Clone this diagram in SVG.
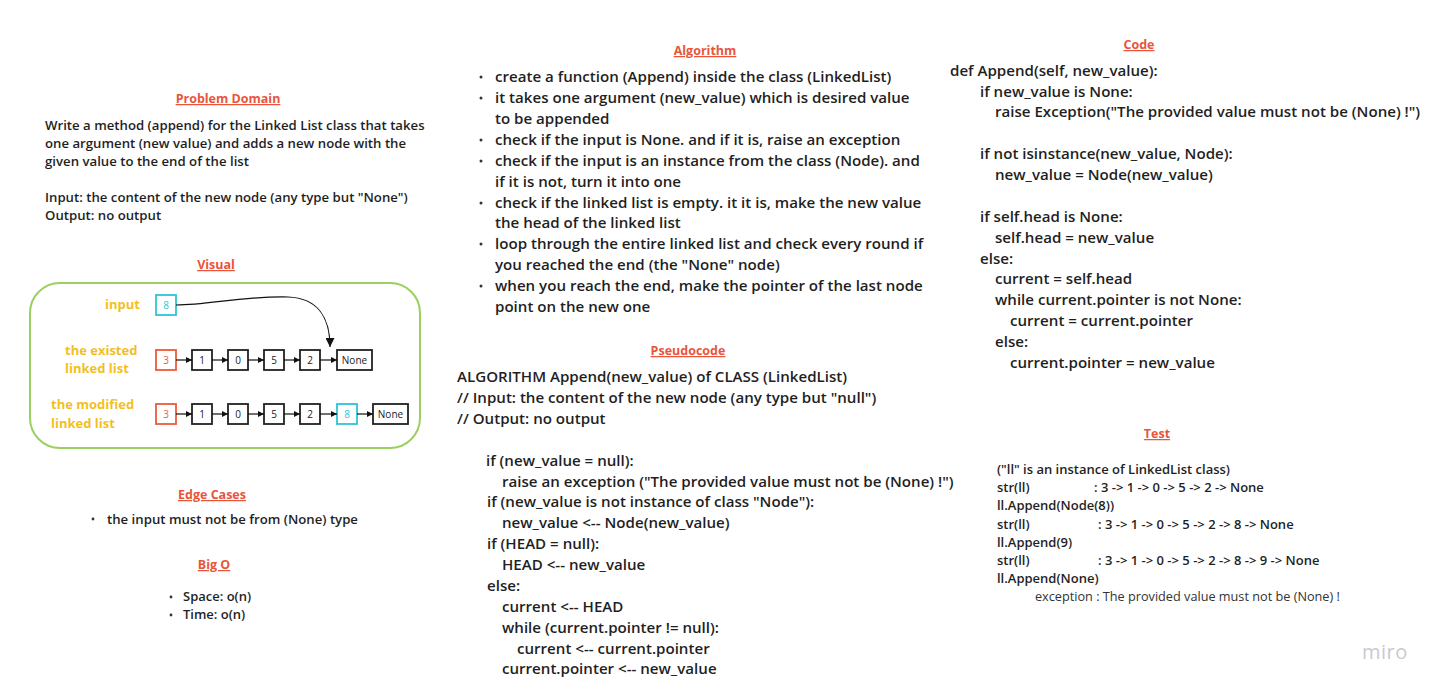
<svg xmlns="http://www.w3.org/2000/svg" width="1441" height="693" viewBox="0 0 1441 693">
<defs>
<style>
text{font-family:"Open Sans","Noto Sans","Liberation Sans",sans-serif;}
.t{fill:#e9553b;font-weight:700;font-size:12.5px;text-decoration:underline;text-anchor:middle;}
.b{fill:#1f1f1f;font-weight:600;}
.pd{font-size:13.2px;}
.al{font-size:15.1px;}
.cd{font-size:15.1px;}
.ts{font-size:13px;}
.y{fill:#f3bf1f;font-weight:700;font-size:13px;}
.bx{fill:#fff;stroke:#222;stroke-width:1.8;}
.rb{fill:#fff;stroke:#ee5a3c;stroke-width:1.8;}
.cb{fill:#fff;stroke:#2cc5d6;stroke-width:1.8;}
.bt{font-size:10px;text-anchor:middle;fill:#222;}
.ln{stroke:#111;stroke-width:1.2;fill:none;}
</style>
<marker id="ah" viewBox="0 0 10 10" refX="10" refY="5" markerWidth="8" markerHeight="6" markerUnits="userSpaceOnUse" orient="auto">
<path d="M0,0 L10,5 L0,10 z" fill="#111"/>
</marker>
<marker id="ahb" viewBox="0 0 10 10" refX="10" refY="5" markerWidth="14" markerHeight="9" markerUnits="userSpaceOnUse" orient="auto">
<path d="M0,0 L10,5 L0,10 z" fill="#111"/>
</marker>
</defs>
<rect width="1441" height="693" fill="#fff"/>

<g id="problem-domain">
<text class="t" x="228" y="103">Problem Domain</text>
<text class="b pd" x="45" y="130">Write a method (append) for the Linked List class that takes</text>
<text class="b pd" x="45" y="148">one argument (new value) and adds a new node with the</text>
<text class="b pd" x="45" y="166">given value to the end of the list</text>
<text class="b pd" x="45" y="202">Input: the content of the new node (any type but "None")</text>
<text class="b pd" x="45" y="220">Output: no output</text>
</g>

<g id="visual">
<text class="t" x="216" y="269">Visual</text>
<rect x="30" y="283" width="390" height="165" rx="30" ry="30" fill="none" stroke="#9bcf5f" stroke-width="2"/>
<text class="y" x="105" y="309">input</text>
<text class="y" x="65" y="355">the existed</text>
<text class="y" x="65" y="373">linked list</text>
<text class="y" x="51" y="409">the modified</text>
<text class="y" x="51" y="428">linked list</text>
</g>

<g id="node-input"><rect class="cb" x="156" y="295" width="20" height="20"/><text class="bt" x="166" y="308.5" style="fill:#2cc5d6">8</text></g>

<g id="row1-3"><rect class="rb" x="156" y="350" width="20" height="20"/><text class="bt" x="166" y="363.5" style="fill:#ee5a3c">3</text></g>
<g id="row1-1"><rect class="bx" x="192" y="350" width="20" height="20"/><text class="bt" x="202" y="363.5">1</text></g>
<g id="row1-0"><rect class="bx" x="228" y="350" width="20" height="20"/><text class="bt" x="238" y="363.5">0</text></g>
<g id="row1-5"><rect class="bx" x="264" y="350" width="20" height="20"/><text class="bt" x="274" y="363.5">5</text></g>
<g id="row1-2"><rect class="bx" x="300" y="350" width="20" height="20"/><text class="bt" x="310" y="363.5">2</text></g>
<g id="row1-none"><rect class="bx" x="337" y="350" width="35" height="20"/><text class="bt" x="354.5" y="363.5">None</text></g>

<g id="row2-3"><rect class="rb" x="156" y="404" width="20" height="20"/><text class="bt" x="166" y="417.5" style="fill:#ee5a3c">3</text></g>
<g id="row2-1"><rect class="bx" x="192" y="404" width="20" height="20"/><text class="bt" x="202" y="417.5">1</text></g>
<g id="row2-0"><rect class="bx" x="228" y="404" width="20" height="20"/><text class="bt" x="238" y="417.5">0</text></g>
<g id="row2-5"><rect class="bx" x="264" y="404" width="20" height="20"/><text class="bt" x="274" y="417.5">5</text></g>
<g id="row2-2"><rect class="bx" x="300" y="404" width="20" height="20"/><text class="bt" x="310" y="417.5">2</text></g>
<g id="row2-8"><rect class="cb" x="337" y="404" width="20" height="20"/><text class="bt" x="347" y="417.5" style="fill:#2cc5d6">8</text></g>
<g id="row2-none"><rect class="bx" x="373" y="404" width="35" height="20"/><text class="bt" x="390.5" y="417.5">None</text></g>

<g id="connectors">
<path class="ln" d="M176,305 C210,305 240,296 288,297 C318,298 330,318 330,347" marker-end="url(#ahb)"/>
<line class="ln" x1="176" y1="360" x2="192" y2="360" marker-end="url(#ah)"/>
<line class="ln" x1="212" y1="360" x2="228" y2="360" marker-end="url(#ah)"/>
<line class="ln" x1="248" y1="360" x2="264" y2="360" marker-end="url(#ah)"/>
<line class="ln" x1="284" y1="360" x2="300" y2="360" marker-end="url(#ah)"/>
<line class="ln" x1="320" y1="360" x2="337" y2="360" marker-end="url(#ah)"/>
<line class="ln" x1="176" y1="414" x2="192" y2="414" marker-end="url(#ah)"/>
<line class="ln" x1="212" y1="414" x2="228" y2="414" marker-end="url(#ah)"/>
<line class="ln" x1="248" y1="414" x2="264" y2="414" marker-end="url(#ah)"/>
<line class="ln" x1="284" y1="414" x2="300" y2="414" marker-end="url(#ah)"/>
<line class="ln" x1="320" y1="414" x2="337" y2="414" marker-end="url(#ah)"/>
<line class="ln" x1="357" y1="414" x2="373" y2="414" marker-end="url(#ah)"/>
</g>

<g id="edge-cases">
<text class="t" x="212" y="499">Edge Cases</text>
<circle cx="93" cy="519" r="1.4" fill="#333"/>
<text class="b pd" x="107" y="524">the input must not be from (None) type</text>
</g>

<g id="big-o">
<text class="t" x="214" y="569">Big O</text>
<circle cx="171" cy="597" r="1.4" fill="#333"/>
<text class="b ts" x="183" y="601">Space: o(n)</text>
<circle cx="171" cy="615" r="1.4" fill="#333"/>
<text class="b ts" x="183" y="619">Time: o(n)</text>
</g>

<g id="algorithm">
<text class="t" x="705" y="55">Algorithm</text>
<g fill="#333"><circle cx="481" cy="77" r="1.5"/><circle cx="481" cy="98" r="1.5"/><circle cx="481" cy="140" r="1.5"/><circle cx="481" cy="161" r="1.5"/><circle cx="481" cy="203" r="1.5"/><circle cx="481" cy="244" r="1.5"/><circle cx="481" cy="286" r="1.5"/></g>
<text class="b al" x="495" y="82">create a function (Append) inside the class (LinkedList)</text>
<text class="b al" x="495" y="103">it takes one argument (new_value) which is desired value</text>
<text class="b al" x="495" y="124">to be appended</text>
<text class="b al" x="495" y="145">check if the input is None. and if it is, raise an exception</text>
<text class="b al" x="495" y="166">check if the input is an instance from the class (Node). and</text>
<text class="b al" x="495" y="187">if it is not, turn it into one</text>
<text class="b al" x="495" y="208">check if the linked list is empty. it it is, make the new value</text>
<text class="b al" x="495" y="228">the head of the linked list</text>
<text class="b al" x="495" y="249">loop through the entire linked list and check every round if</text>
<text class="b al" x="495" y="270">you reached the end (the "None" node)</text>
<text class="b al" x="495" y="291">when you reach the end, make the pointer of the last node</text>
<text class="b al" x="495" y="312">point on the new one</text>
</g>

<g id="pseudocode">
<text class="t" x="688" y="355">Pseudocode</text>
<text class="b al" x="457" y="382">ALGORITHM Append(new_value) of CLASS (LinkedList)</text>
<text class="b al" x="457" y="403">// Input: the content of the new node (any type but "null")</text>
<text class="b al" x="457" y="424">// Output: no output</text>
<text class="b al" x="486" y="466">if (new_value = null):</text>
<text class="b al" x="502" y="487">raise an exception ("The provided value must not be (None) !")</text>
<text class="b al" x="487" y="507">if (new_value is not instance of class "Node"):</text>
<text class="b al" x="502" y="528">new_value &lt;-- Node(new_value)</text>
<text class="b al" x="487" y="549">if (HEAD = null):</text>
<text class="b al" x="502" y="570">HEAD &lt;-- new_value</text>
<text class="b al" x="487" y="591">else:</text>
<text class="b al" x="502" y="612">current &lt;-- HEAD</text>
<text class="b al" x="502" y="633">while (current.pointer != null):</text>
<text class="b al" x="517" y="654">current &lt;-- current.pointer</text>
<text class="b al" x="502" y="674">current.pointer &lt;-- new_value</text>
</g>

<g id="code">
<text class="t" x="1139" y="49">Code</text>
<text class="b cd" x="950" y="76">def Append(self, new_value):</text>
<text class="b cd" x="980" y="97">if new_value is None:</text>
<text class="b cd" x="995" y="117">raise Exception("The provided value must not be (None) !")</text>
<text class="b cd" x="980" y="159">if not isinstance(new_value, Node):</text>
<text class="b cd" x="995" y="180">new_value = Node(new_value)</text>
<text class="b cd" x="980" y="222">if self.head is None:</text>
<text class="b cd" x="995" y="243">self.head = new_value</text>
<text class="b cd" x="980" y="264">else:</text>
<text class="b cd" x="995" y="284">current = self.head</text>
<text class="b cd" x="995" y="305">while current.pointer is not None:</text>
<text class="b cd" x="1010" y="326">current = current.pointer</text>
<text class="b cd" x="995" y="347">else:</text>
<text class="b cd" x="1010" y="368">current.pointer = new_value</text>
</g>

<g id="test">
<text class="t" x="1157" y="438">Test</text>
<text class="b ts" x="997" y="474">("ll" is an instance of LinkedList class)</text>
<text class="b ts" x="997" y="492">str(ll)</text>
<text class="b ts" x="1094" y="492">:  3 -&gt; 1 -&gt; 0 -&gt; 5 -&gt; 2 -&gt; None</text>
<text class="b ts" x="997" y="510">ll.Append(Node(8))</text>
<text class="b ts" x="997" y="529">str(ll)</text>
<text class="b ts" x="1098" y="529">:  3 -&gt; 1 -&gt; 0 -&gt; 5 -&gt; 2 -&gt; 8 -&gt; None</text>
<text class="b ts" x="997" y="547">ll.Append(9)</text>
<text class="b ts" x="997" y="565">str(ll)</text>
<text class="b ts" x="1098" y="565">:  3 -&gt; 1 -&gt; 0 -&gt; 5 -&gt; 2 -&gt; 8 -&gt; 9 -&gt; None</text>
<text class="b ts" x="997" y="583">ll.Append(None)</text>
<text x="1035" y="601" font-size="12.7" fill="#333">exception : The provided value must not be (None) !</text>
</g>

<text x="1362" y="659" font-size="20" fill="#c9c9d1" font-family="Open Sans, sans-serif" letter-spacing="0.5">miro</text>
</svg>
